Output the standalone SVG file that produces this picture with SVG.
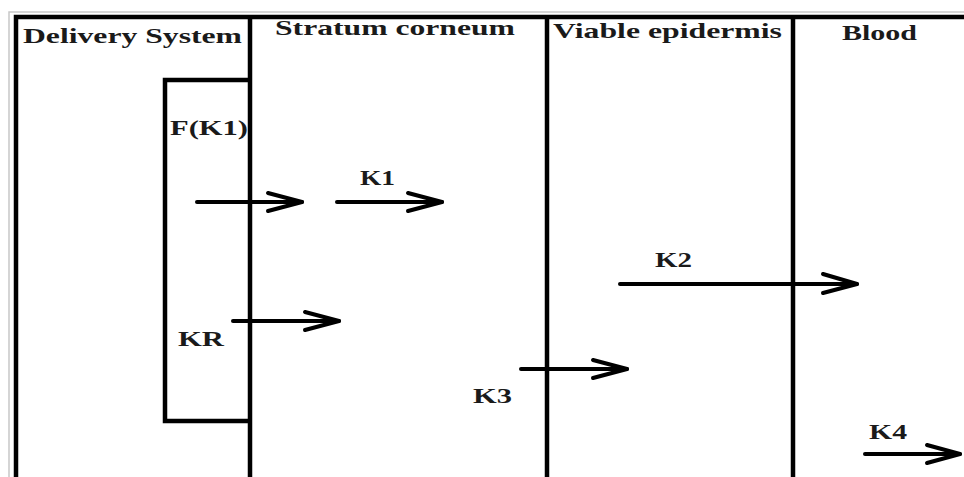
<svg xmlns="http://www.w3.org/2000/svg" width="964" height="477" viewBox="0 0 964 477">
<style>
.lbl{font-family:"Liberation Serif","Times New Roman",serif;font-weight:bold;fill:#1a1a1a;}
.h{font-size:22px;}
.k{font-size:20px;}
.wall{stroke:#000;stroke-width:4.5;fill:none;}
.arr{stroke:#000;stroke-width:4;fill:none;stroke-linecap:round;stroke-linejoin:round;}
</style>
<rect x="0" y="0" width="964" height="477" fill="#fff"/>
<g id="frame">
<polyline points="9,477 9,12 964,12" fill="none" stroke="#c8c8c8" stroke-width="1.5"/>
<polyline class="wall" points="16,477 16,17 964,17"/>
</g>
<g id="delivery-system">
<line class="wall" x1="250" y1="17" x2="250" y2="477"/>
<text class="lbl h" x="23" y="43" textLength="219" lengthAdjust="spacingAndGlyphs">Delivery System</text>
</g>
<g id="formulation">
<polyline class="wall" points="250,80 165,80 165,421 250,421"/>
<text class="lbl k" x="170" y="135" textLength="78" lengthAdjust="spacingAndGlyphs">F(K1)</text>
<text class="lbl k" x="178" y="346" textLength="46" lengthAdjust="spacingAndGlyphs">KR</text>
</g>
<g id="stratum-corneum">
<line class="wall" x1="547" y1="17" x2="547" y2="477"/>
<text class="lbl h" x="275" y="35" textLength="240" lengthAdjust="spacingAndGlyphs">Stratum corneum</text>
</g>
<g id="viable-epidermis">
<line class="wall" x1="793" y1="17" x2="793" y2="477"/>
<text class="lbl h" x="553" y="38" textLength="229" lengthAdjust="spacingAndGlyphs">Viable epidermis</text>
</g>
<g id="blood">
<text class="lbl h" x="842" y="40" textLength="75" lengthAdjust="spacingAndGlyphs">Blood</text>
</g>
<g id="connectors">
<g id="arrow-fk1">
<line class="arr" x1="197" y1="202" x2="302" y2="202"/>
<polyline class="arr" points="268,193 302,202 268,211"/>
</g>
<g id="arrow-k1">
<line class="arr" x1="337" y1="202" x2="442" y2="202"/>
<polyline class="arr" points="408,193 442,202 408,211"/>
<text class="lbl k" x="360" y="185" textLength="35" lengthAdjust="spacingAndGlyphs">K1</text>
</g>
<g id="arrow-kr">
<line class="arr" x1="233" y1="321" x2="339" y2="321"/>
<polyline class="arr" points="305,312 339,321 305,330"/>
</g>
<g id="arrow-k2">
<line class="arr" x1="620" y1="284" x2="857" y2="284"/>
<polyline class="arr" points="823,274 857,284 823,293"/>
<text class="lbl k" x="655" y="267" textLength="37" lengthAdjust="spacingAndGlyphs">K2</text>
</g>
<g id="arrow-k3">
<line class="arr" x1="521" y1="369" x2="627" y2="369"/>
<polyline class="arr" points="593,360 627,369 593,378"/>
<text class="lbl k" x="473" y="403" textLength="39" lengthAdjust="spacingAndGlyphs">K3</text>
</g>
<g id="arrow-k4">
<line class="arr" x1="865" y1="454" x2="960" y2="454"/>
<polyline class="arr" points="927,445 960,454 927,463"/>
<text class="lbl k" x="869" y="439" textLength="38" lengthAdjust="spacingAndGlyphs">K4</text>
</g>
</g>
</svg>
